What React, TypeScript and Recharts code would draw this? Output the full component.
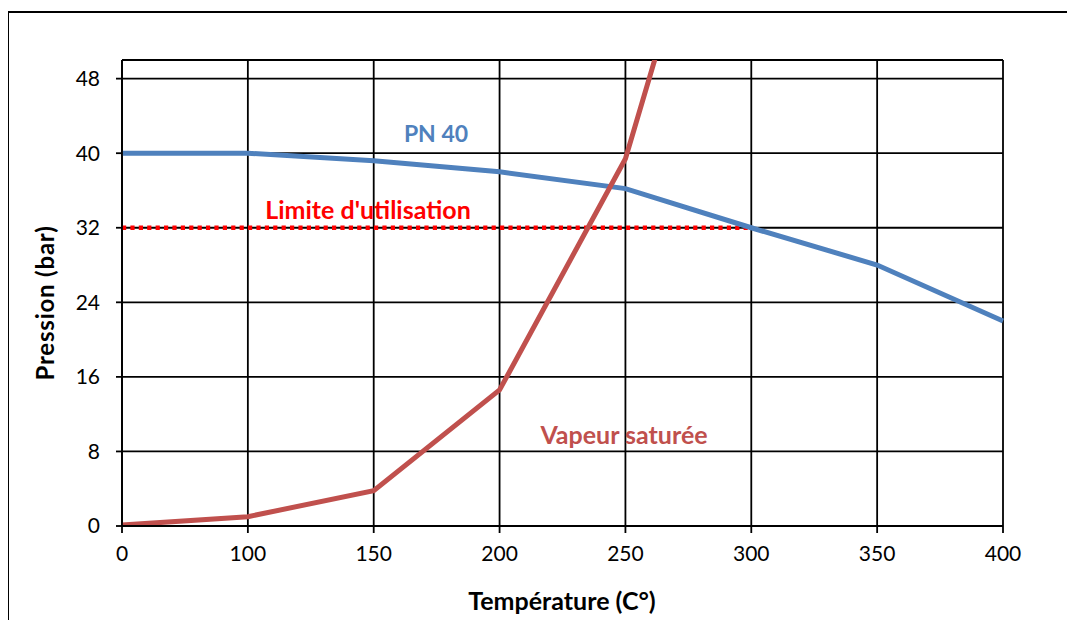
import React from "react";
import { LineChart, Line, XAxis, YAxis, CartesianGrid } from "recharts";

// temperature categories (°C)
const temperatures = ["0", "100", "150", "200", "250", "300", "350", "400"];
// PN 40 pressure rating (bar)
const pn40 = [40, 40, 39.2, 38, 36.2, 32, 28, 22];
// saturated steam pressure (bar), goes off the top after 250
const vapeur = [0.1, 1, 3.8, 14.6, 39.4, 85, null, null];
// limite d'utilisation (bar)
const limite = [32, 32, 32, 32, 32, 32, null, null];
const yTicks = [0, 8, 16, 24, 32, 40, 48];

const data = temperatures.map((t, i) => ({
  t,
  pn40: pn40[i],
  vapeur: vapeur[i],
  limite: limite[i],
}));

const FONT = "Lato, 'Open Sans', sans-serif";

export default function App() {
  return (
    <div style={{ position: "relative", width: 1059, height: 612 }}>
      {/* frame: only left and top edges fall inside the picture */}
      <div
        style={{
          position: "absolute",
          left: -1,
          top: 3,
          width: 1066,
          height: 615,
          borderLeft: "2px solid #000",
          borderTop: "2px solid #000",
        }}
      />
      <LineChart
        width={1059}
        height={612}
        data={data}
        margin={{ top: 52, right: 64, left: 0, bottom: 0 }}
      >
        <CartesianGrid stroke="#000" strokeWidth={1.8} />
        <XAxis
          dataKey="t"
          height={94}
          stroke="#000"
          strokeWidth={1.8}
          tickSize={7}
          tickMargin={13}
          tick={{ fill: "#000", fontSize: 21, fontFamily: FONT }}
        />
        <YAxis
          width={114}
          domain={[0, 50]}
          ticks={yTicks}
          allowDataOverflow
          stroke="#000"
          strokeWidth={1.8}
          tickSize={6}
          tickMargin={16}
          tick={{ fill: "#000", fontSize: 21, fontFamily: FONT }}
        />
        <Line
          dataKey="limite"
          stroke="#FF0000"
          strokeWidth={4.5}
          strokeDasharray="4.2 4.2"
          dot={false}
          isAnimationActive={false}
        />
        <Line
          dataKey="pn40"
          stroke="#4F81BD"
          strokeWidth={5}
          dot={false}
          isAnimationActive={false}
        />
        <Line
          dataKey="vapeur"
          stroke="#C0504D"
          strokeWidth={5}
          dot={false}
          isAnimationActive={false}
        />
      </LineChart>
      <svg
        width={1059}
        height={612}
        style={{ position: "absolute", left: 0, top: 0, pointerEvents: "none" }}
        fontFamily={FONT}
        fontWeight={700}
        textAnchor="middle"
        dominantBaseline="central"
      >
        <text x={428} y={125} fontSize={23} fill="#4F81BD">
          PN 40
        </text>
        <text x={360} y={201} fontSize={25} fill="#FF0000">
          Limite d'utilisation
        </text>
        <text x={616} y={426} fontSize={25} fill="#C0504D">
          Vapeur saturée
        </text>
        <text x={554} y={592} fontSize={25} fill="#000">
          Température (C°)
        </text>
        <text
          x={36}
          y={295}
          fontSize={24}
          letterSpacing={0.8}
          fill="#000"
          transform="rotate(-90 36 295)"
        >
          Pression (bar)
        </text>
      </svg>
    </div>
  );
}
